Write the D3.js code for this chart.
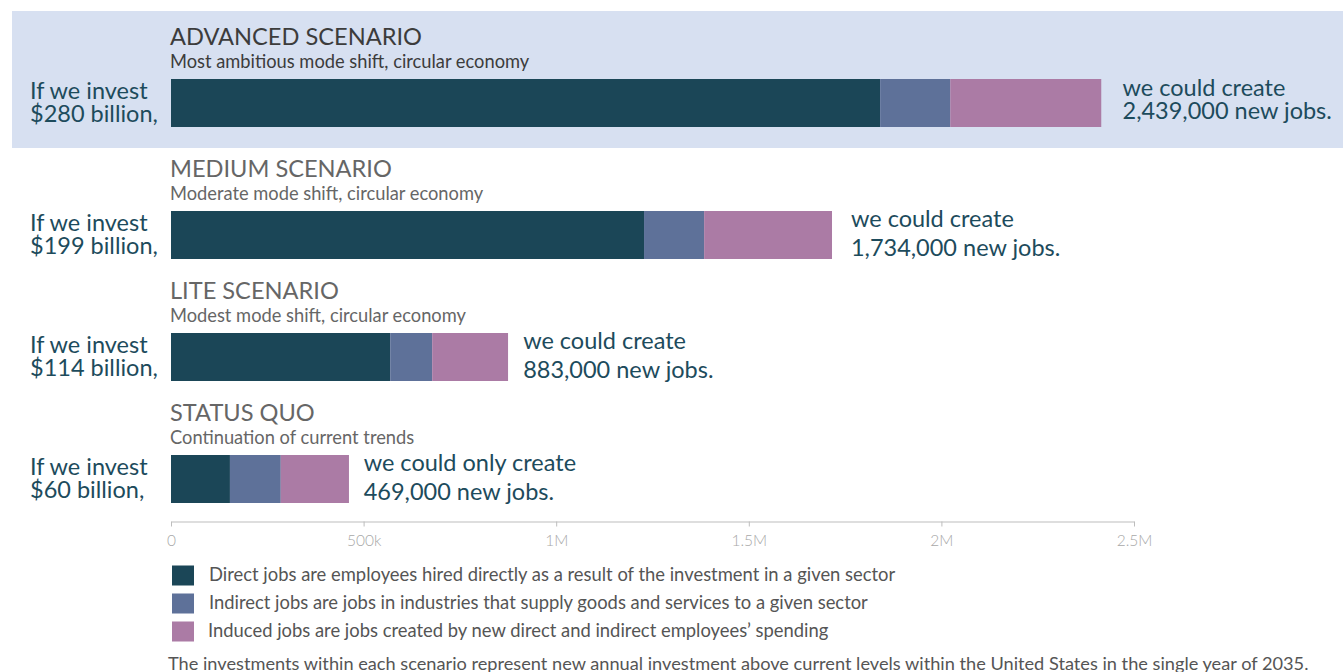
<!DOCTYPE html>
<html>
<head>
<meta charset="utf-8">
<script src="https://cdn.jsdelivr.net/npm/d3@7"></script>
<style>
  html, body { margin: 0; padding: 0; background: #fff; }
  svg { display: block; font-family: Lato, "Open Sans", sans-serif; }
</style>
</head>
<body>
<svg id="chart" width="1343" height="672"></svg>
<script>
// ---- data ----
const scenarios = ["ADVANCED SCENARIO", "MEDIUM SCENARIO", "LITE SCENARIO", "STATUS QUO"];
const subtitles = [
  "Most ambitious mode shift, circular economy",
  "Moderate mode shift, circular economy",
  "Modest mode shift, circular economy",
  "Continuation of current trends"
];
const investments = ["$280 billion,", "$199 billion,", "$114 billion,", "$60 billion,"];
const createPhrases = ["we could create", "we could create", "we could create", "we could only create"];
const totalJobs = [2439000, 1734000, 883000, 469000];
const directJobs = [1841000, 1228000, 569000, 153000];
const indirectJobs = [182000, 156000, 109000, 132000];
const inducedJobs = [392000, 332000, 197000, 177000];
const seriesKeys = ["direct", "indirect", "induced"];
const legendLabels = [
  "Direct jobs are employees hired directly as a result of the investment in a given sector",
  "Indirect jobs are jobs in industries that supply goods and services to a given sector",
  "Induced jobs are jobs created by new direct and indirect employees\u2019 spending"
];
const tickValues = [0, 500000, 1000000, 1500000, 2000000, 2500000];
const tickLabels = ["0", "500k", "1M", "1.5M", "2M", "2.5M"];
const footnote = "The investments within each scenario represent new annual investment above current levels within the United States in the single year of 2035.";

// ---- styles ----
const colors = { direct: "#1b4657", indirect: "#5e7199", induced: "#ab7ba5" };
const teal = "#1d4b5c";

const svg = d3.select("#chart");

const rows = scenarios.map((s, i) => ({
  name: s, sub: subtitles[i], invest: investments[i], phrase: createPhrases[i],
  total: totalJobs[i], direct: directJobs[i], indirect: indirectJobs[i], induced: inducedJobs[i], i
}));

const x = d3.scaleLinear().domain([0, 2500000]).range([171, 1134]);
const barH = 48;
const rowTop = i => 79 + i * 122 + (i > 0 ? 10 : 0);

// highlight band for the advanced scenario
svg.append("rect").attr("x", 12).attr("y", 11).attr("width", 1343 - 12).attr("height", 137)
  .attr("fill", "#d7e0f1");

const stack = d3.stack().keys(seriesKeys)(rows);

const g = svg.append("g");
stack.forEach(layer => {
  g.selectAll(null).data(layer).enter().append("rect")
    .attr("x", d => x(d[0]))
    .attr("width", d => x(d[1]) - x(d[0]))
    .attr("y", d => rowTop(d.data.i))
    .attr("height", barH)
    .attr("fill", colors[layer.key]);
});

rows.forEach(r => {
  const top = rowTop(r.i);
  const hi = r.i === 0;
  svg.append("text").attr("x", 170).attr("y", top - 34)
    .attr("font-size", 23.6).attr("fill", hi ? "#3c3c3c" : "#666").text(r.name);
  svg.append("text").attr("x", 170).attr("y", top - 11)
    .attr("font-size", 18.3).attr("fill", hi ? "#3c3c3c" : "#666").text(r.sub);

  svg.append("text").attr("font-size", 23.5).attr("fill", teal)
    .attr("x", 30).attr("y", top + 20).text("If we invest");
  svg.append("text").attr("font-size", 23.5).attr("fill", teal)
    .attr("x", 30).attr("y", top + 43).text(r.invest);

  const endX = x(r.total) + 12;
  const l1 = hi ? top + 17 : top + 16;
  const l2 = hi ? top + 40 : top + 45;
  svg.append("text").attr("font-size", 23.5).attr("fill", teal)
    .attr("x", endX).attr("y", l1).text(r.phrase);
  svg.append("text").attr("font-size", 23.5).attr("fill", teal)
    .attr("x", endX).attr("y", l2).text(d3.format(",")(r.total) + " new jobs.");
});

// axis
const axis = d3.axisBottom(x).tickValues(tickValues)
  .tickFormat((d, i) => tickLabels[i]).tickSize(5).tickSizeOuter(0).tickPadding(8);
const ag = svg.append("g").attr("transform", "translate(0,521.5)").call(axis);
ag.select(".domain").attr("stroke", "#bdbdbd");
ag.selectAll(".tick line").attr("stroke", "#bdbdbd");
ag.selectAll(".tick text").attr("fill", "#a8a8a8").attr("font-size", 15.5)
  .attr("font-family", "Lato, sans-serif").attr("font-weight", 300);

// legend
seriesKeys.forEach((k, i) => {
  const cy = 575 + i * 28;
  svg.append("rect").attr("x", 172).attr("y", cy - 9.5).attr("width", 22).attr("height", 20).attr("fill", colors[k]);
  svg.append("text").attr("x", i === 2 ? 208 : 209).attr("y", cy + 6)
    .attr("font-size", 18.4).attr("fill", "#555").text(legendLabels[i]);
});

svg.append("text").attr("x", 168).attr("y", 670).attr("font-size", 18.2).attr("fill", "#555").text(footnote);
</script>
</body>
</html>
